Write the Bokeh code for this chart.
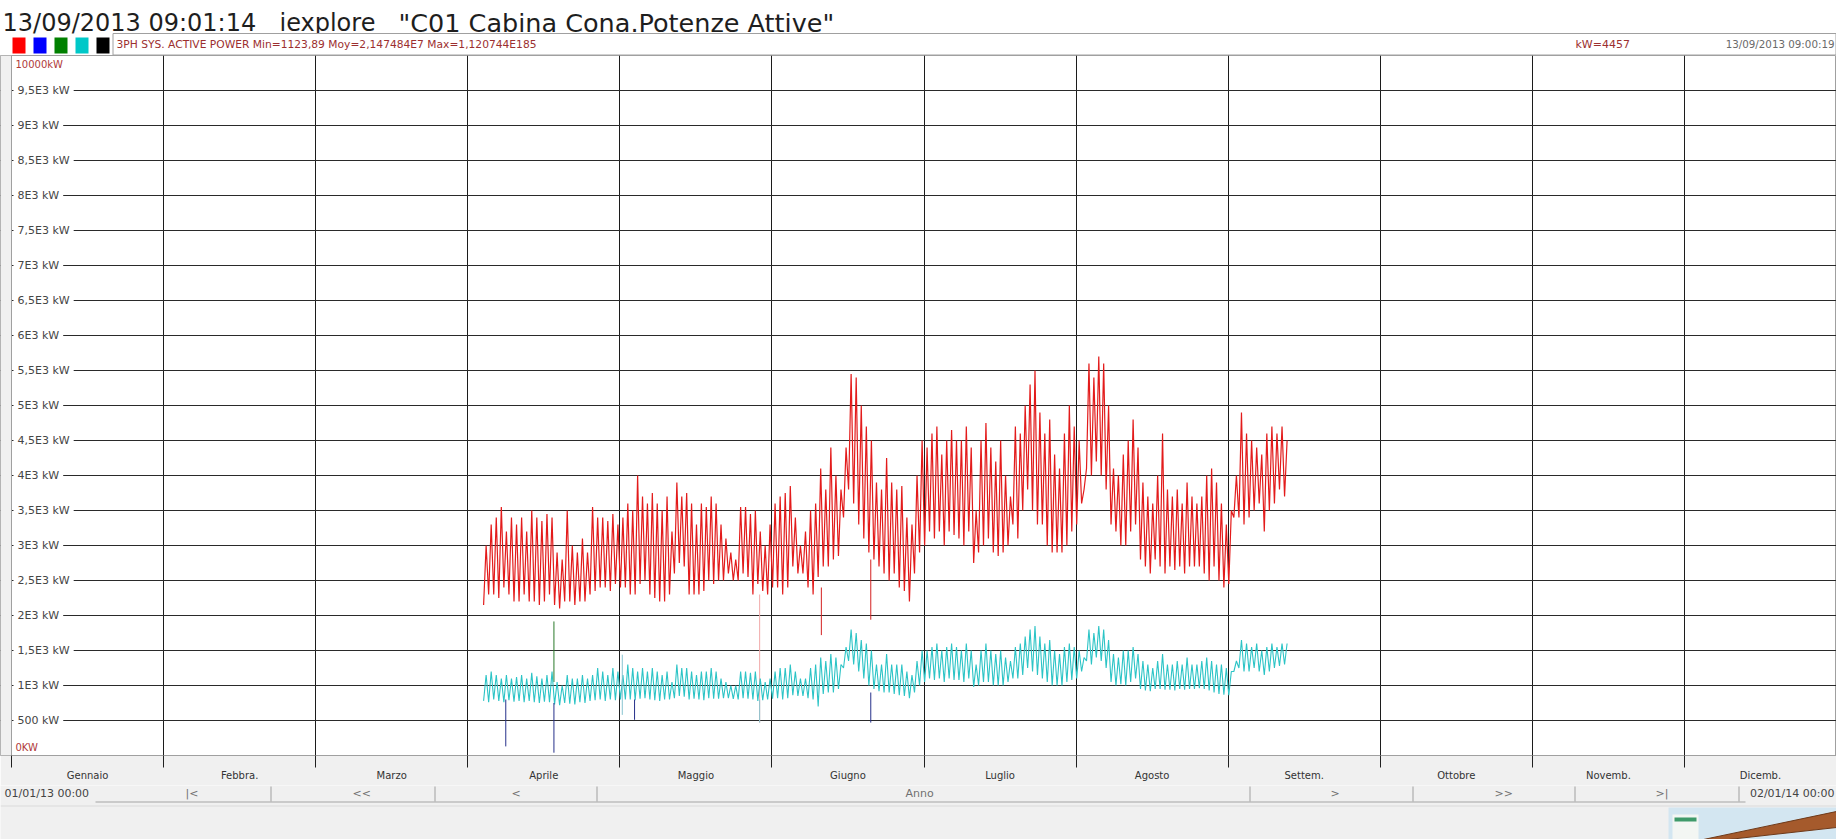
import numpy as np
import pandas as pd
from bokeh.plotting import figure
from bokeh.models import Range1d, FixedTicker, Label, BoxAnnotation, Span
from bokeh.layouts import column
from bokeh.embed import file_html
from bokeh.resources import INLINE
from bokeh.core.properties import value

FONT = "DejaVu Sans"

# ------------------------------------------------------------------ data
months = ["Gennaio", "Febbra.", "Marzo", "Aprile", "Maggio", "Giugno",
          "Luglio", "Agosto", "Settem.", "Ottobre", "Novemb.", "Dicemb."]
y_ticks = [500, 1000, 1500, 2000, 2500, 3000, 3500, 4000, 4500, 5000,
           5500, 6000, 6500, 7000, 7500, 8000, 8500, 9000, 9500]
y_tick_labels = ["500 kW", "1E3 kW", "1,5E3 kW", "2E3 kW", "2,5E3 kW", "3E3 kW",
                 "3,5E3 kW", "4E3 kW", "4,5E3 kW", "5E3 kW", "5,5E3 kW", "6E3 kW",
                 "6,5E3 kW", "7E3 kW", "7,5E3 kW", "8E3 kW", "8,5E3 kW", "9E3 kW",
                 "9,5E3 kW"]

series_start = "2013-04-04 03:00"
series_end = "2013-09-12 15:00"

# 3PH total active power: daily high / low (kW)
red_hi = [3000, 3300, 3400, 3550, 3200, 3400, 3300, 3400, 3200, 3500,
          3400, 3350, 3450, 3400, 2900, 2800, 3500, 3000, 2900, 3100, 2900,
          3550, 3400, 3400, 3350, 3450, 3300, 3400, 3600, 3500, 4000, 3700, 3600,
          3750, 3600, 3500, 3700, 3200, 3900, 3700, 3750, 3600, 3300,
          3600, 3550, 3700, 3600,
          3300, 3100, 2900, 2800, 3550, 3550, 3450, 3500, 3200, 3000,
          3300, 3600, 3700, 3750, 3850, 3400, 3000, 3200, 3500, 3600, 4100,
          3800, 4400, 4000, 3800, 4400, 5450, 5400, 5000, 4700, 4500, 3900, 3800,
          4250, 3900, 3800, 3850, 3400, 3300, 4000, 4500, 4400,
          4600, 4700, 4300, 4500, 4650, 4500,
          4500, 4700, 4400, 3500, 4500, 4750, 4400, 4200, 4500, 4000, 3700,
          4700, 4600, 5000, 5300, 5500, 4900, 4600, 4800, 4300,
          4100, 4600, 5000, 4700, 4500, 3800, 5600, 5400, 5700, 5600, 5000,
          4100, 4000, 4300, 4500, 4800, 4400,
          3900, 3700, 3600, 4000, 4600, 3800, 3700, 3800, 3600, 3900, 3700, 3600, 3700,
          4000, 4100, 3900, 3600, 3300, 3500,
          4000, 4900, 4600, 4500, 4400, 4300, 4600, 4700, 4600, 4700, 4500]
red_lo = [2150, 2300, 2300, 2250, 2400, 2300, 2200, 2200, 2300, 2200,
          2200, 2150, 2200, 2300, 2150, 2100, 2200, 2200, 2150, 2200, 2200,
          2300, 2350, 2400, 2400, 2350, 2450, 2400, 2400, 2300, 2300, 2450, 2500,
          2300, 2250, 2200, 2200, 2300, 2600, 2750, 2700, 2300, 2300,
          2300, 2350, 2500, 2450,
          2500, 2500, 2600, 2500, 2500, 2600, 2550, 2300, 2450, 2350,
          2300, 2400, 2400, 2300, 2400, 2700, 2600, 2600, 2400, 2300, 2550,
          2700, 2700, 2800, 2850, 3400, 3800, 3600, 3300, 3100, 2900, 2800, 2700,
          2600, 2500, 2600, 2400, 2350, 2200, 2600, 2900, 3000,
          3200, 3100, 3200, 3000, 3200, 3150,
          3100, 3000, 3200, 2750, 2900, 3000, 3100, 2900, 2850, 2900, 3000,
          3300, 3100, 3500, 3800, 3500, 3300, 3300, 3000, 2900,
          2900, 2900, 3000, 3200, 3300, 3600, 4100, 4000, 4200, 4000, 3800,
          3300, 3200, 3000, 3000, 3200, 3300,
          2800, 2700, 2600, 2800, 2700, 2600, 2700, 2650, 2700, 2600, 2700, 2700, 2700,
          2600, 2500, 2700, 2500, 2400, 2450,
          3400, 3400, 3300, 3400, 3500, 3600, 3200, 3500, 3600, 3800, 3700]

# single phase active power: daily high / low (kW)
cyan_hi = [1150, 1200, 1150, 1100, 1150, 1100, 1120, 1150, 1100, 1180,
           1130, 1100, 1150, 1200, 1050, 1000, 1150, 1100, 1100, 1150, 1100,
           1150, 1250, 1200, 1150, 1250, 1200, 1150, 1300, 1250, 1200, 1250, 1200,
           1250, 1200, 1150, 1200, 1050, 1300, 1250, 1250, 1200, 1150,
           1200, 1200, 1250, 1200,
           1100, 1050, 1000, 1000, 1200, 1200, 1180, 1200, 1100, 1050,
           1100, 1200, 1250, 1250, 1300, 1200, 1100, 1100, 1250, 1300, 1400,
           1350, 1450, 1400, 1300, 1550, 1800, 1750, 1650, 1600, 1500, 1300, 1300,
           1450, 1300, 1300, 1300, 1200, 1150, 1350, 1500, 1500,
           1550, 1600, 1500, 1550, 1600, 1550,
           1500, 1600, 1500, 1300, 1500, 1600, 1500, 1450, 1500, 1400, 1350,
           1550, 1600, 1700, 1800, 1850, 1700, 1600, 1650, 1500,
           1450, 1550, 1600, 1550, 1500, 1400, 1800, 1750, 1850, 1800, 1650,
           1450, 1400, 1500, 1500, 1550, 1450,
           1350, 1300, 1250, 1350, 1450, 1300, 1300, 1350, 1300, 1400, 1300, 1300, 1350,
           1400, 1350, 1300, 1300, 1250, 1200,
           1350, 1650, 1600, 1550, 1600, 1500, 1550, 1600, 1550, 1600, 1600]
cyan_lo = [780, 760, 800, 780, 760, 790, 770, 780, 760, 780,
           760, 750, 770, 760, 730, 720, 750, 740, 730, 760, 750,
           780, 790, 800, 780, 800, 790, 800, 800, 800, 790, 810, 820,
           800, 790, 780, 800, 800, 820, 850, 840, 800, 810,
           800, 790, 820, 810,
           810, 820, 820, 810, 800, 820, 810, 800, 780, 790,
           800, 810, 820, 800, 820, 860, 850, 850, 820, 800, 700,
           880, 900, 900, 950, 1250, 1350, 1300, 1200, 1100, 1000, 950, 920,
           900, 900, 880, 860, 850, 820, 900, 1000, 1050,
           1100, 1080, 1100, 1050, 1100, 1080,
           1080, 1050, 1100, 980, 1000, 1050, 1050, 1000, 1000, 1000, 1050,
           1100, 1100, 1150, 1250, 1200, 1150, 1100, 1050, 1000,
           1000, 1000, 1050, 1080, 1100, 1200, 1350, 1300, 1400, 1350, 1250,
           1050, 1000, 1020, 1000, 1050, 1100,
           950, 930, 920, 950, 950, 940, 940, 930, 950, 940, 950, 950, 960,
           950, 930, 900, 880, 870, 860,
           1200, 1250, 1200, 1200, 1250, 1200, 1150, 1200, 1250, 1280, 1300]

# isolated spikes (time, from kW, to kW)
red_spike_time = ["2013-06-10 18:00", "2013-06-20 12:00"]
red_spike_from = [2400, 2800]
red_spike_to = [1720, 1940]
pink_spike_time = ["2013-05-29 12:00"]
pink_spike_from = [2300]
pink_spike_to = [470]
blue_spike_time = ["2013-04-08 12:00", "2013-04-18 00:00", "2013-05-04 00:00", "2013-06-20 12:00"]
blue_spike_from = [800, 750, 800, 900]
blue_spike_to = [130, 40, 510, 470]
green_spike_time = ["2013-04-18 00:00"]
green_spike_from = [1050]
green_spike_to = [1915]
cyan_spike_time = ["2013-05-01 12:00", "2013-05-29 12:00"]
cyan_spike_from = [1440, 800]
cyan_spike_to = [580, 470]


def month_pos(ts):
    ts = pd.DatetimeIndex(pd.to_datetime(ts))
    frac = (ts.day - 1 + ts.hour / 24.0 + ts.minute / 1440.0) / ts.days_in_month
    return np.asarray(ts.month - 1 + frac, dtype=float)


def zigzag(lo, hi):
    n = min(len(lo), len(hi))
    t = pd.date_range(series_start, series_end, periods=2 * n)
    y = np.empty(2 * n)
    y[0::2] = lo[:n]
    y[1::2] = hi[:n]
    return month_pos(t), y


W = 1836
TOP_H = 55
MAIN_H = 730
BOT_H = 839 - TOP_H - MAIN_H
PLOT_LEFT = 11                      # left border of the chart area, px
PX_PER_MONTH = (W - PLOT_LEFT) / 12.0


def strip(height, y_top, bg):
    f = figure(width=W, height=height, x_range=Range1d(0, W),
               y_range=Range1d(y_top + height, y_top),
               output_backend="svg", toolbar_location=None, tools="",
               x_axis_location=None, y_axis_location=None, min_border=0)
    f.grid.visible = False
    f.outline_line_color = None
    f.background_fill_color = bg
    f.border_fill_color = bg
    return f


# ------------------------------------------------------------------ header strip (window px)
top = strip(TOP_H, 0, "white")
tkw = dict(text_font=value(FONT), text_baseline="alphabetic", text_color="#1e1e1e")
top.text(x=[2], y=[22], text=["13/09/2013 09:01:14"], text_font_size="24px", **tkw)
top.text(x=[279], y=[22], text=["iexplore"], text_font_size="24px", **tkw)
top.text(x=[398], y=[22], text=['"C01 Cabina Cona.Potenze Attive"'], text_font_size="25.5px", **tkw)

top.quad(left=[12, 33, 54, 75, 96], right=[25, 46, 67, 88, 109], top=[37] * 5, bottom=[53] * 5,
         fill_color=["#ff0000", "#0000ff", "#008000", "#00c8c8", "#000000"], line_color=None)
top.quad(left=[112.5], right=[W - 0.5], top=[33], bottom=[54.5], fill_color="white",
         line_color="#a0a0a0", line_width=1)
skw = dict(text_font=value(FONT), text_baseline="middle")
top.text(x=[116], y=[43.5], text=["3PH SYS. ACTIVE POWER Min=1123,89 Moy=2,147484E7 Max=1,120744E185"],
         text_color="#9c2f2f", text_font_size="10.7px", **skw)
top.text(x=[1575], y=[43.5], text=["kW=4457"], text_color="#9c2f2f", text_font_size="11px", **skw)
top.text(x=[1834], y=[43.5], text=["13/09/2013 09:00:19"], text_color="#6a6a6a",
         text_align="right", text_font_size="10.3px", **skw)

# ------------------------------------------------------------------ main chart
p = figure(width=W, height=MAIN_H, x_range=Range1d(-PLOT_LEFT / PX_PER_MONTH, 12),
           y_range=Range1d(0, 10000),
           output_backend="svg", toolbar_location=None, tools="",
           y_axis_location=None, x_axis_location="below",
           min_border_left=0, min_border_right=0, min_border_top=0,
           min_border_bottom=MAIN_H - 700)
p.background_fill_color = "white"
p.border_fill_color = "#f0f0f0"
p.outline_line_color = "#a0a0a0"

p.xaxis.ticker = FixedTicker(ticks=[i + 0.5 for i in range(12)], minor_ticks=list(range(13)))
p.xaxis.bounds = (0, 12)
p.xaxis.major_label_overrides = {i + 0.5: m for i, m in enumerate(months)}
p.xaxis.major_tick_line_color = None
p.xaxis.major_tick_out = 0
p.xaxis.major_tick_in = 0
p.xaxis.minor_tick_out = 12
p.xaxis.minor_tick_in = 0
p.xaxis.minor_tick_line_color = "#202020"
p.xaxis.axis_line_color = "#a0a0a0"
p.xaxis.major_label_standoff = 2
p.xaxis.major_label_text_font = FONT
p.xaxis.major_label_text_font_size = "10px"
p.xaxis.major_label_text_color = "#333333"

p.xgrid.ticker = FixedTicker(ticks=list(range(1, 12)))
p.xgrid.grid_line_color = "#1c1c1c"
p.ygrid.ticker = FixedTicker(ticks=y_ticks)
p.ygrid.grid_line_color = "#2a2a2a"

# grey margin left of the chart area and its border
p.add_layout(BoxAnnotation(right=0, fill_color="#f0f0f0", fill_alpha=1.0,
                           line_alpha=0.0, level="underlay"))
p.add_layout(Span(location=0, dimension="height", line_color="#a0a0a0", line_width=1))

xr, yr = zigzag(red_lo, red_hi)
xc, yc = zigzag(cyan_lo, cyan_hi)

p.line(xr, yr, line_color="#e31b1b", line_width=1.2)
for tms, y0, y1, col in [(red_spike_time, red_spike_from, red_spike_to, "#d42020"),
                         (pink_spike_time, pink_spike_from, pink_spike_to, "#f2a8a8"),
                         (green_spike_time, green_spike_from, green_spike_to, "#2a7a2a")]:
    xs = month_pos(tms)
    p.segment(x0=xs, y0=y0, x1=xs, y1=y1, line_color=col, line_width=1)

p.line(xc, yc, line_color="#2cc4c6", line_width=1.1)
for tms, y0, y1, col in [(blue_spike_time, blue_spike_from, blue_spike_to, "#26308a"),
                         (cyan_spike_time, cyan_spike_from, cyan_spike_to, "#88c4d0")]:
    xs = month_pos(tms)
    p.segment(x0=xs, y0=y0, x1=xs, y1=y1, line_color=col, line_width=1)

for v, s in zip(y_ticks, y_tick_labels):
    p.add_layout(Label(x=0, y=v, x_offset=2, text=s, text_align="left",
                       text_baseline="middle", text_font=FONT, text_font_size="11px",
                       text_color="#454545", background_fill_color="white", padding=4))
p.add_layout(Label(x=0, y=10000, x_offset=4, y_offset=-3, text="10000kW", text_align="left",
                   text_baseline="top", text_font=FONT, text_font_size="10px", text_color="#b03a3a"))
p.add_layout(Label(x=0, y=0, x_offset=4, y_offset=3, text="0KW", text_align="left",
                   text_baseline="bottom", text_font=FONT, text_font_size="10px", text_color="#b03a3a"))

# ------------------------------------------------------------------ navigation strip (window px)
bot = strip(BOT_H, TOP_H + MAIN_H, "#f0f0f0")
bot.segment(x0=[95], y0=[801.5], x1=[1745], y1=[801.5], line_color="#a4a4a4", line_width=1)
bot.segment(x0=[0], y0=[805.5], x1=[W], y1=[805.5], line_color="#dadada", line_width=1)
seps = [270.5, 434.5, 596.5, 1249.5, 1412.5, 1574.5, 1738.5]
bot.segment(x0=seps, y0=[786] * len(seps), x1=seps, y1=[801] * len(seps),
            line_color="#a0a0a0", line_width=1)
bkw = dict(text_font=value(FONT), text_font_size="11px", text_baseline="middle")
bot.text(x=[4], y=[793], text=["01/01/13 00:00"], text_color="#444444", **bkw)
bot.text(x=[1834], y=[793], text=["02/01/14 00:00"], text_color="#444444", text_align="right", **bkw)
bot.text(x=[185, 352, 511, 905, 1330, 1494, 1655], y=[793] * 7,
         text=["|<", "<<", "<", "Anno", ">", ">>", ">|"], text_color="#707070", **bkw)

# small photo in the corner
bot.quad(left=[1668], right=[W], top=[807], bottom=[839], fill_color="#d3e6f1", line_color=None)
bot.quad(left=[1672], right=[1698], top=[814], bottom=[839], fill_color="#f3f6f3", line_color=None)
bot.quad(left=[1674], right=[1696], top=[817], bottom=[821], fill_color="#3f9a6a", line_color=None)
bot.patch(x=[1703, W, W, 1728], y=[839, 811, 827, 839], fill_color="#a55a2c", line_color="#6e3a1a")

layout = column(top, p, bot, spacing=0)
open("out.html", "w").write(file_html(layout, INLINE))
